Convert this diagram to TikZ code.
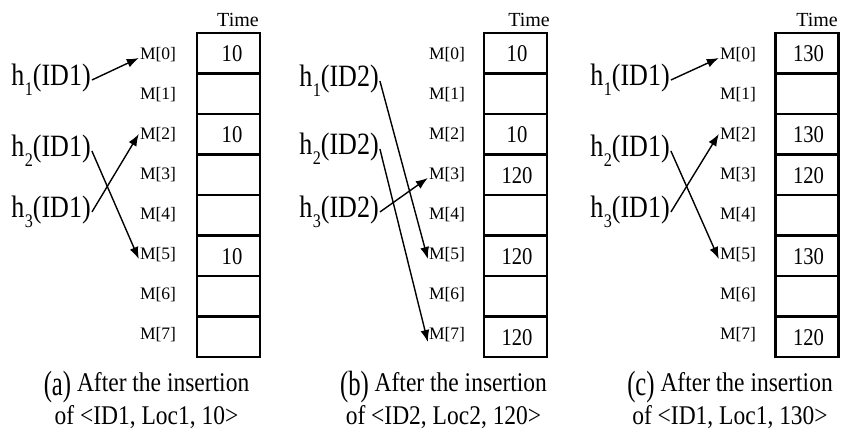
\documentclass[tikz,border=0pt]{standalone}
\usepackage{fontspec}
\setmainfont{Liberation Serif}
\newfontfamily\hfont[FakeStretch=0.84]{Liberation Serif}
\newfontfamily\vfont[FakeStretch=0.86]{Liberation Serif}
\newfontfamily\cfont[FakeStretch=0.87]{Liberation Serif}
\usetikzlibrary{arrows.meta}
\newcommand\hsub[1]{\kern0.5pt\raisebox{-0.32em}{\scalebox{0.62}{#1}}}
\newcommand\subfiglabel[1]{\raisebox{-0.12em}{\scalebox{1.05}[1.3]{(#1)}}}
\tikzset{
  hlab/.style={inner sep=1pt, font=\hfont\fontsize{31}{33}\selectfont},
  mlab/.style={inner sep=1pt, font=\fontsize{17.5}{19}\selectfont},
  tlab/.style={inner sep=0pt, font=\fontsize{20}{21}\selectfont},
  val/.style={inner sep=0pt, font=\vfont\fontsize{24}{26}\selectfont},
  cell/.style={draw, line width=2.6pt, minimum width=63pt, minimum height=40.5pt, inner sep=0pt},
  capt/.style={align=center, inner sep=0pt, font=\cfont\fontsize{27}{33}\selectfont},
  arr/.style={line width=1.4pt, -{Latex[length=12pt,width=9pt]}},
}
\begin{document}
\begin{tikzpicture}[x=1pt,y=-1pt]
\useasboundingbox (0,0) rectangle (860,433);

% ---- (a) ----
\foreach \i/\v in {0/10,1/,2/10,3/,4/,5/10,6/,7/}{
  \node[cell] (a-c\i) at (228.5,53.25+40.5*\i) {};
  \node[val] at (232,54+40.5*\i) {\v};
  \node[mlab] (a-m\i) at (158,55+40*\i) {M[\i]};
}
\node[tlab] (a-t) at (238,20) {Time};
\node[hlab] (a-h1) at (51,80) {h\hsub{1}(ID1)};
\node[hlab] (a-h2) at (51,151) {h\hsub{2}(ID1)};
\node[hlab] (a-h3) at (51,212) {h\hsub{3}(ID1)};
\draw[arr] (a-h1.east) -- ([yshift=-3pt]a-m0.west);
\draw[arr] (a-h2.east) -- ([yshift=-4pt]a-m5.west);
\draw[arr] (a-h3.east) -- ([yshift=1pt]a-m2.west);
\node[capt] (a-cap) at (146.5,400) {\subfiglabel{a} After the insertion\\of <ID1, Loc1, 10>};

% ---- (b) ----
\foreach \i/\v in {0/10,1/,2/10,3/120,4/,5/120,6/,7/120}{
  \node[cell] (b-c\i) at (515.5,53.25+40.5*\i) {};
  \node[val] at (517,54+40.5*\i) {\v};
  \node[mlab] (b-m\i) at (447,55+40*\i) {M[\i]};
}
\node[tlab] (b-t) at (529,20) {Time};
\node[hlab] (b-h1) at (339,81) {h\hsub{1}(ID2)};
\node[hlab] (b-h2) at (339,149) {h\hsub{2}(ID2)};
\node[hlab] (b-h3) at (339,212) {h\hsub{3}(ID2)};
\draw[arr] (b-h1.east) -- ([yshift=-4pt]b-m5.west);
\draw[arr] (b-h2.east) -- ([yshift=-7pt]b-m7.west);
\draw[arr] (b-h3.east) -- ([yshift=-3pt]b-m3.west);
\node[capt] (b-cap) at (443.5,400) {\subfiglabel{b} After the insertion\\of <ID2, Loc2, 120>};

% ---- (c) ----
\foreach \i/\v in {0/130,1/,2/130,3/120,4/,5/130,6/,7/120}{
  \node[cell] (c-c\i) at (807,53.25+40.5*\i) {};
  \node[val] at (808.5,54+40.5*\i) {\v};
  \node[mlab] (c-m\i) at (738,55+40*\i) {M[\i]};
}
\node[tlab] (c-t) at (817,20) {Time};
\node[hlab] (c-h1) at (630,80) {h\hsub{1}(ID1)};
\node[hlab] (c-h2) at (630,151) {h\hsub{2}(ID1)};
\node[hlab] (c-h3) at (630,212) {h\hsub{3}(ID1)};
\draw[arr] (c-h1.east) -- ([yshift=-3pt]c-m0.west);
\draw[arr] (c-h2.east) -- ([yshift=-4pt]c-m5.west);
\draw[arr] (c-h3.east) -- ([yshift=1pt]c-m2.west);
\node[capt] (c-cap) at (730,400) {\subfiglabel{c} After the insertion\\of <ID1, Loc1, 130>};
\end{tikzpicture}
\end{document}
